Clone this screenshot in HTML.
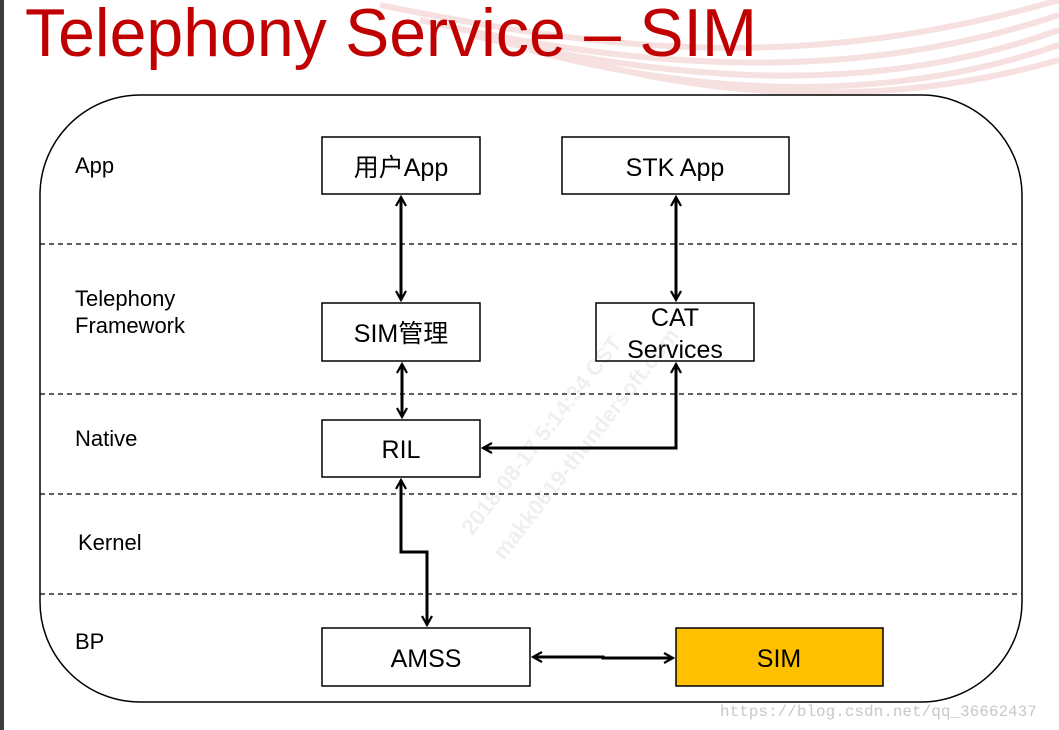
<!DOCTYPE html>
<html><head><meta charset="utf-8"><style>
html,body{margin:0;padding:0;background:#fff;}
body{width:1059px;height:730px;overflow:hidden;position:relative;}
</style></head><body>
<svg width="1059" height="730" xmlns="http://www.w3.org/2000/svg" style="position:absolute;left:0;top:0">
<defs>
<marker id="a" markerWidth="12" markerHeight="12" refX="10" refY="6" orient="auto-start-reverse" markerUnits="userSpaceOnUse">
<path d="M1,1 L10,6 L1,11" fill="none" stroke="#000" stroke-width="2.2"/>
</marker>
</defs>
<rect x="0" y="0" width="4" height="730" fill="#3b3e42"/>
<g fill="none" stroke="#f0c8c8" stroke-width="6" opacity="0.55">
<path d="M380,5 C600,50 800,75 1059,0"/>
<path d="M420,20 C640,70 850,85 1059,15"/>
<path d="M470,35 C690,85 880,95 1059,30"/>
<path d="M530,50 C720,100 900,100 1059,45"/>
<path d="M600,65 C760,105 920,100 1059,60"/>
</g>
<text x="25" y="56" font-family="Liberation Sans, sans-serif" font-size="68" fill="#c00000" textLength="732" lengthAdjust="spacingAndGlyphs">Telephony Service – SIM</text>
<path d="M140,95 H922 C975,95 1022,140 1022,195 V602 C1022,657 975,702 922,702 H140 C85,702 40,657 40,602 V195 C40,140 85,95 140,95 Z" fill="none" stroke="#000" stroke-width="1.5"/>
<g stroke="#000" stroke-width="1.2" stroke-dasharray="5,4">
<line x1="40" y1="244" x2="1022" y2="244"/>
<line x1="40" y1="394" x2="1022" y2="394"/>
<line x1="40" y1="494" x2="1022" y2="494"/>
<line x1="40" y1="594" x2="1022" y2="594"/>
</g>
<g font-family="Liberation Sans, sans-serif" font-size="22" fill="#000">
<text x="75" y="173">App</text>
<text x="75" y="306">Telephony</text>
<text x="75" y="333">Framework</text>
<text x="75" y="446">Native</text>
<text x="78" y="550">Kernel</text>
<text x="75" y="649">BP</text>
</g>
<g stroke="#000" stroke-width="1.5">
<rect x="322" y="137" width="158" height="57" fill="#fff"/>
<rect x="562" y="137" width="227" height="57" fill="#fff"/>
<rect x="322" y="303" width="158" height="58" fill="#fff"/>
<rect x="596" y="303" width="158" height="58" fill="#fff"/>
<rect x="322" y="420" width="158" height="57" fill="#fff"/>
<rect x="322" y="628" width="208" height="58" fill="#fff"/>
<rect x="676" y="628" width="207" height="58" fill="#ffc000"/>
</g>
<g font-family="Liberation Sans, 'Noto Sans CJK SC', sans-serif" font-size="25" fill="#000" text-anchor="middle">
<text x="401" y="176">用户App</text>
<text x="675" y="176">STK App</text>
<text x="401" y="342">SIM管理</text>
<text x="675" y="326">CAT</text>
<text x="675" y="358">Services</text>
<text x="401" y="458">RIL</text>
<text x="426" y="667">AMSS</text>
<text x="779" y="667">SIM</text>
</g>
<g stroke="#000" stroke-width="3" fill="none">
<line x1="401" y1="197" x2="401" y2="300" marker-start="url(#a)" marker-end="url(#a)"/>
<line x1="676" y1="197" x2="676" y2="300" marker-start="url(#a)" marker-end="url(#a)"/>
<line x1="402" y1="364" x2="402" y2="417" marker-start="url(#a)" marker-end="url(#a)"/>
<polyline points="483,448 676,448 676,364" marker-start="url(#a)" marker-end="url(#a)"/>
<polyline points="401,480 401,552 427,552 427,625" marker-start="url(#a)" marker-end="url(#a)"/>
<polyline points="533,657 603,657 603,658 673,658" marker-start="url(#a)" marker-end="url(#a)"/>
</g>
<text x="720" y="716" font-family="Liberation Mono, monospace" font-size="16" fill="#c8c8c8">https://blog.csdn.net/qq_36662437</text>
<g font-family="Liberation Sans, sans-serif" font-size="22" font-weight="bold" fill="#000" opacity="0.06" transform="rotate(-52 560 440)">
<text x="430" y="430">2018-08-17 5:14:34 CST</text>
<text x="430" y="470">makk0619-thundersoft.com</text>
</g>
</svg>
</body></html>
